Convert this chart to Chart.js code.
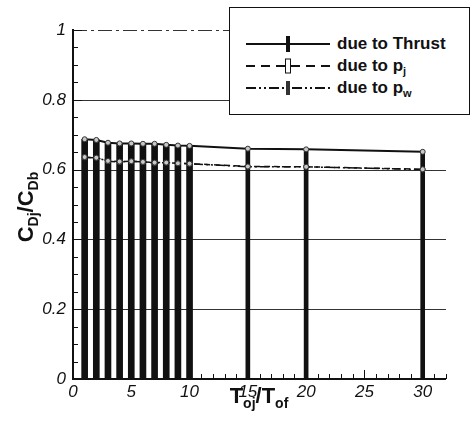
<!DOCTYPE html>
<html>
<head>
<meta charset="utf-8">
<script src="https://cdn.jsdelivr.net/npm/chart.js@4"></script>
<style>
  html, body { margin: 0; padding: 0; background: #fff; }
  #wrap { position: relative; width: 471px; height: 423px; font-family: "Liberation Sans", Arial, sans-serif; }
  #legend {
    position: absolute; left: 229px; top: 7px; width: 241px; height: 108px;
    border: 1.5px solid #111; background: #fff; box-sizing: border-box;
  }
  .row { position: absolute; left: 0; height: 22px; display: flex; align-items: center; }
  .row svg { margin-left: 16px; }
  .row span { margin-left: 7px; font-weight: bold; font-size: 17px; color: #111; }
  .row sub { font-size: 11px; vertical-align: -4px; }
</style>
</head>
<body>
<div id="wrap">
  <canvas id="c" width="471" height="423"></canvas>
  <div id="legend">
    <div class="row" style="top:25px">
      <svg width="84" height="20"><line x1="0" y1="10" x2="84" y2="10" stroke="#111" stroke-width="2"/><rect x="40" y="2" width="4" height="16" fill="#111"/></svg>
      <span>due to Thrust</span>
    </div>
    <div class="row" style="top:47px">
      <svg width="84" height="20"><line x1="0" y1="10" x2="84" y2="10" stroke="#111" stroke-width="2" stroke-dasharray="9,6"/><rect x="39.5" y="3" width="5" height="14" fill="#fff" stroke="#111" stroke-width="1"/></svg>
      <span>due to p<sub>j</sub></span>
    </div>
    <div class="row" style="top:69px">
      <svg width="84" height="20"><line x1="0" y1="10" x2="84" y2="10" stroke="#111" stroke-width="2" stroke-dasharray="10,3,2,3,2,3"/><rect x="40" y="3" width="4" height="14" fill="#333"/></svg>
      <span>due to p<sub>w</sub></span>
    </div>
  </div>
</div>
<script>
// data
const xVals  = [1, 2, 3, 4, 5, 6, 7, 8, 9, 10, 15, 20, 30];
const thrust = [0.687, 0.685, 0.677, 0.675, 0.675, 0.674, 0.674, 0.671, 0.669, 0.668, 0.660, 0.658, 0.651];
const pJ     = [0.636, 0.634, 0.625, 0.623, 0.624, 0.622, 0.620, 0.620, 0.618, 0.617, 0.609, 0.608, 0.601];
const pW     = [0.635, 0.634, 0.624, 0.622, 0.624, 0.622, 0.619, 0.620, 0.618, 0.617, 0.608, 0.608, 0.600];

const xTickVals = [0, 5, 10, 15, 20, 25, 30];
const yTickVals = [0, 0.2, 0.4, 0.6, 0.8, 1];
const yTickLabels = ['0', '0.2', '0.4', '0.6', '0.8', '1'];
const yGrid = [0.2, 0.4, 0.6, 0.8];

const pts = (ys) => xVals.map((x, i) => ({ x: x, y: ys[i] }));
const thickBars = pts(thrust).filter(p => p.x <= 10);
const thinBars = pts(thrust).filter(p => p.x > 10);

const FONT = "'Liberation Sans', Arial, sans-serif";

// grid, inward ticks, axes and axis titles
const decor = {
  id: 'decor',
  beforeDatasetsDraw(chart) {
    const { ctx, chartArea: a, scales: { x, y } } = chart;
    ctx.save();
    ctx.strokeStyle = '#333';
    ctx.lineWidth = 1;
    yGrid.forEach(v => {
      const py = Math.round(y.getPixelForValue(v)) + 0.5;
      ctx.beginPath(); ctx.moveTo(a.left, py); ctx.lineTo(a.right, py); ctx.stroke();
    });
    // top line dash-dot
    ctx.setLineDash([14, 4, 3, 4]);
    const pt = Math.round(y.getPixelForValue(1)) + 0.5;
    ctx.beginPath(); ctx.moveTo(a.left, pt); ctx.lineTo(a.right, pt); ctx.stroke();
    ctx.restore();
  },
  afterDraw(chart) {
    const { ctx, chartArea: a, scales: { x, y } } = chart;
    ctx.save();
    ctx.strokeStyle = '#111';
    ctx.lineWidth = 1;
    for (let v = 0; v <= 32; v++) {
      const px = Math.round(x.getPixelForValue(v)) + 0.5;
      const len = v % 5 === 0 ? 9 : 5;
      ctx.beginPath(); ctx.moveTo(px, a.bottom); ctx.lineTo(px, a.bottom - len); ctx.stroke();
    }
    for (let k = 0; k <= 20; k++) {
      const py = Math.round(y.getPixelForValue(k * 0.05)) + 0.5;
      const len = k % 4 === 0 ? 9 : 5;
      ctx.beginPath(); ctx.moveTo(a.left, py); ctx.lineTo(a.left + len, py); ctx.stroke();
    }
    // axes
    ctx.lineWidth = 2;
    ctx.beginPath();
    ctx.moveTo(a.left, a.top - 1);
    ctx.lineTo(a.left, a.bottom);
    ctx.lineTo(a.right, a.bottom);
    ctx.stroke();

    // axis titles with subscripts
    ctx.fillStyle = '#111';
    ctx.textBaseline = 'alphabetic';
    const big = 'bold 22px ' + FONT, small = 'bold 14px ' + FONT;
    const parts = (arr) => arr.map(([t, sub]) => {
      ctx.font = sub ? small : big;
      return { t, sub, w: ctx.measureText(t).width };
    });
    const drawParts = (ps) => {
      const total = ps.reduce((s, p) => s + p.w, 0);
      let cx = -total / 2;
      ps.forEach(p => {
        ctx.font = p.sub ? small : big;
        ctx.fillText(p.t, cx, p.sub ? 5 : 0);
        cx += p.w;
      });
    };
    // x title
    ctx.save();
    ctx.translate(259, 403);
    drawParts(parts([['T'], ['oj', 1], ['/'], ['T'], ['of', 1]]));
    ctx.restore();
    // y title
    ctx.save();
    ctx.translate(33, 207);
    ctx.rotate(-Math.PI / 2);
    drawParts(parts([['C'], ['Dj', 1], ['/'], ['C'], ['Db', 1]]));
    ctx.restore();
    ctx.restore();
  }
};

const lineStyle = {
  type: 'line',
  borderColor: '#111',
  borderWidth: 1.5,
  pointRadius: 2.5,
  pointBackgroundColor: '#c8c8c8',
  pointBorderColor: '#333',
  pointBorderWidth: 1,
  fill: false,
  order: 0
};

new Chart(document.getElementById('c').getContext('2d'), {
  type: 'bar',
  data: {
    datasets: [
      Object.assign({}, lineStyle, { label: 'due to Thrust', data: pts(thrust), borderWidth: 2 }),
      Object.assign({}, lineStyle, { label: 'due to p_j', data: pts(pJ), borderDash: [6, 4] }),
      Object.assign({}, lineStyle, { label: 'due to p_w', data: pts(pW), borderDash: [9, 3, 2, 3, 2, 3] }),
      { type: 'bar', label: 'bars', data: thickBars, backgroundColor: '#111', barThickness: 6, grouped: false, order: 1 },
      { type: 'bar', label: 'bars2', data: thinBars, backgroundColor: '#111', barThickness: 4, grouped: false, order: 1 }
    ]
  },
  options: {
    responsive: false,
    animation: false,
    layout: { padding: { left: 0, right: 25, top: 30, bottom: 0 } },
    scales: {
      x: {
        type: 'linear',
        min: 0, max: 32,
        offset: false,
        afterBuildTicks: (s) => { s.ticks = xTickVals.map(v => ({ value: v })); },
        afterFit: (s) => { s.height = 44; },
        grid: { display: false, drawTicks: false },
        border: { display: false },
        ticks: { color: '#111', padding: 3, maxRotation: 0, font: { family: FONT, size: 17, style: 'italic' } }
      },
      y: {
        min: 0, max: 1,
        afterBuildTicks: (s) => { s.ticks = yTickVals.map(v => ({ value: v })); },
        afterFit: (s) => { s.width = 73; },
        grid: { display: false, drawTicks: false },
        border: { display: false },
        ticks: {
          color: '#111', padding: 7, font: { family: FONT, size: 17, style: 'italic' },
          callback: (v, i) => yTickLabels[i]
        }
      }
    },
    plugins: {
      legend: { display: false },
      tooltip: { enabled: false }
    }
  },
  plugins: [decor]
});
</script>
</body>
</html>
